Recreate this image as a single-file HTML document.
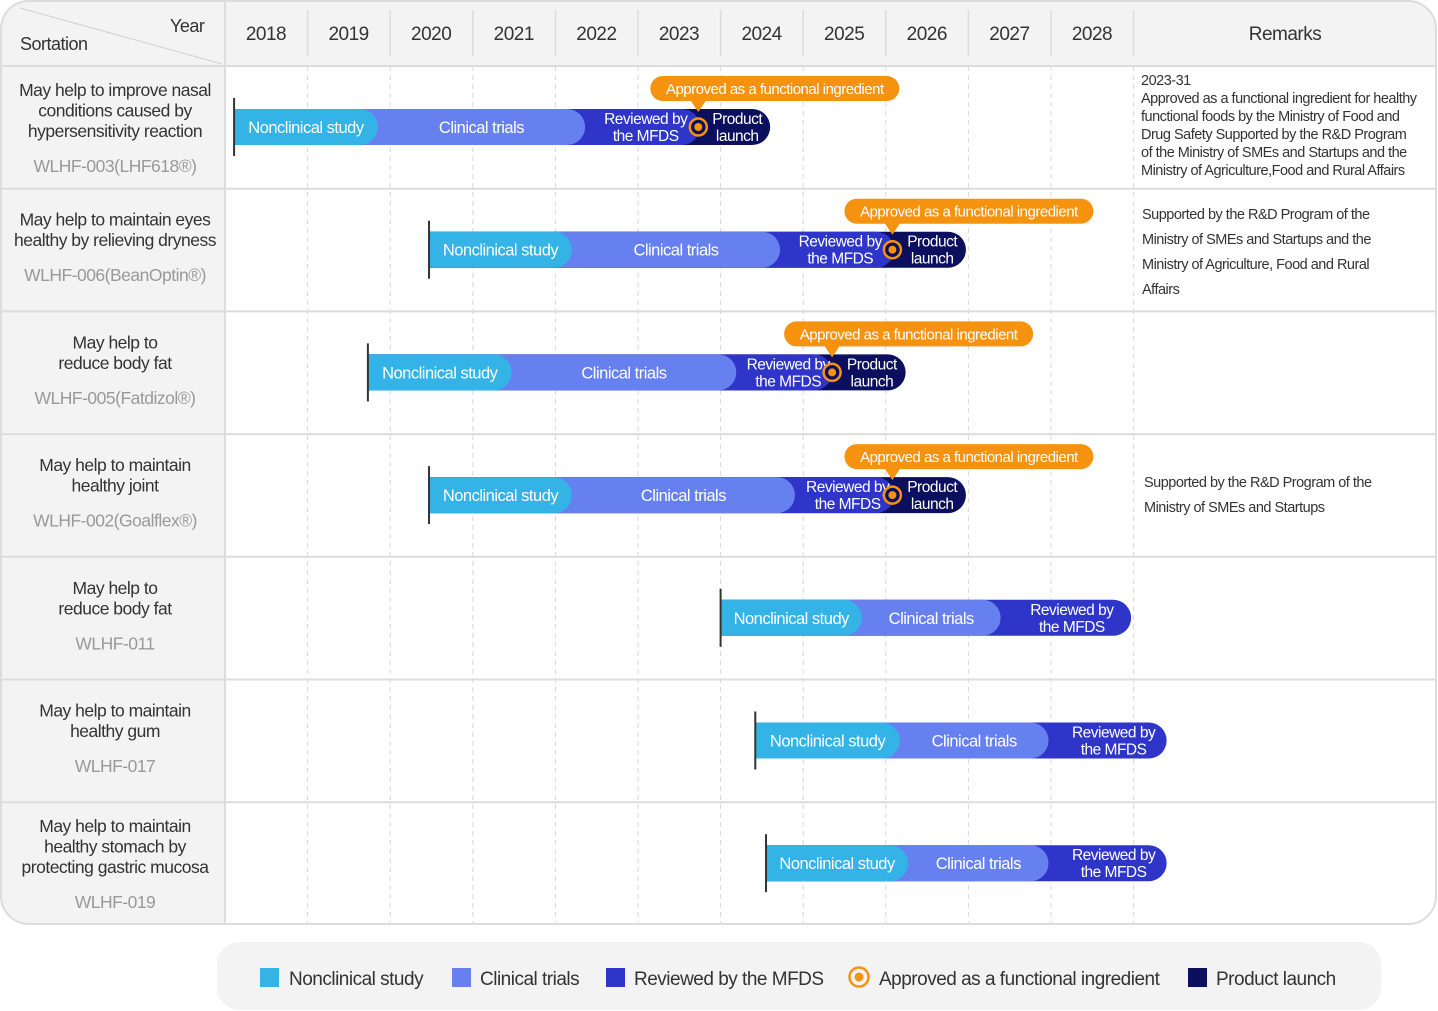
<!DOCTYPE html>
<html><head><meta charset="utf-8"><style>
body{margin:0;background:#fff;font-family:"Liberation Sans",sans-serif;}
svg{display:block}
text{font-family:"Liberation Sans",sans-serif;letter-spacing:-0.5px}
</style></head><body>
<svg id="c" width="1438" height="1011">
<defs><clipPath id="clip"><rect x="1" y="1" width="1435" height="923" rx="28"/></clipPath></defs>
<g clip-path="url(#clip)">
<rect x="0" y="0" width="1438" height="925" fill="#fff"/>
<rect x="0" y="0" width="1438" height="66" fill="#f3f3f3"/>
<rect x="0" y="66" width="225" height="860" fill="#f3f3f3"/>
<g id="grid"></g>
</g>
<rect x="1" y="1" width="1435" height="923" rx="28" fill="none" stroke="#dcdcdc" stroke-width="2"/>
<line x1="20" y1="8" x2="222" y2="64" stroke="#d0d0d0"/>
<text x="170" y="32" font-size="18" fill="#333">Year</text>
<text x="20" y="50" font-size="18" fill="#333">Sortation</text>
<text x="1285" y="40" font-size="19" fill="#333" text-anchor="middle">Remarks</text>
<g id="rows"></g>
<g id="bars"></g>
<g id="remarks" font-size="14.5" fill="#333"></g>
<g>
<rect x="217" y="942" width="1164" height="68" rx="22" fill="#f3f3f3"/>
<rect x="260" y="968" width="19" height="19" fill="#33b3e6"/><text x="289" y="985" font-size="19" fill="#333">Nonclinical study</text>
<rect x="452" y="968" width="19" height="19" fill="#6680f0"/><text x="480" y="985" font-size="19" fill="#333">Clinical trials</text>
<rect x="606" y="968" width="19" height="19" fill="#2e35c8"/><text x="634" y="985" font-size="19" fill="#333">Reviewed by the MFDS</text>
<circle cx="859" cy="977" r="9.5" fill="none" stroke="#f5930f" stroke-width="2.5"/><circle cx="859" cy="977" r="4.5" fill="#f5930f"/><text x="879" y="985" font-size="19" fill="#333">Approved as a functional ingredient</text>
<rect x="1188" y="968" width="19" height="19" fill="#0b0f5e"/><text x="1216" y="985" font-size="19" fill="#333">Product launch</text>
</g>
</svg>
<script>
const years=[2018,2019,2020,2021,2022,2023,2024,2025,2026,2027,2028];
const rowTitles=[["May help to improve nasal","conditions caused by","hypersensitivity reaction"],["May help to maintain eyes","healthy by relieving dryness"],["May help to","reduce body fat"],["May help to maintain","healthy joint"],["May help to","reduce body fat"],["May help to maintain","healthy gum"],["May help to maintain","healthy stomach by","protecting gastric mucosa"]];
const codes=["WLHF-003(LHF618®)","WLHF-006(BeanOptin®)","WLHF-005(Fatdizol®)","WLHF-002(Goalflex®)","WLHF-011","WLHF-017","WLHF-019"];
const starts=[2018.11,2020.47,2019.73,2020.47,2024.0,2024.42,2024.55];
const nonclinEnd=[2019.85,2022.2,2021.47,2022.2,2025.71,2026.17,2026.27];
const clinicalEnd=[2022.36,2024.72,2024.19,2024.9,2027.39,2027.97,2027.97];
const reviewEnd=[2023.75,2026.1,2025.35,2026.1,2028.97,2029.4,2029.4];
const launchEnd=[2024.6,2026.97,2026.24,2026.97,null,null,null];
const approved=[2023.73,2026.08,2025.35,2026.08,null,null,null];
const NS="http://www.w3.org/2000/svg";
const X=y=>225+(y-2018)*82.6;
const rowTop=i=>66+i*122.7;
function el(t,a,p){const e=document.createElementNS(NS,t);for(const k in a)e.setAttribute(k,a[k]);p.appendChild(e);return e;}
function txt(s,a,p){const e=el('text',a,p);e.textContent=s;return e;}
const grid=document.getElementById('grid'),rows=document.getElementById('rows'),bars=document.getElementById('bars');
years.forEach((yr,i)=>{
  const t=txt(String(yr),{x:X(yr)+41,y:40,'font-size':19,fill:'#333','text-anchor':'middle'},rows);
  
  
  const b=el('line',{x1:X(yr)+82.6,y1:10,x2:X(yr)+82.6,y2:56,stroke:'#dcdcdc','stroke-width':1.5},grid);
  const d=el('line',{x1:X(yr)+82.6,y1:66,x2:X(yr)+82.6,y2:925,stroke:'#d8d8d8','stroke-dasharray':'5,4'},grid);
  
  
});
el('line',{x1:225,y1:0,x2:225,y2:925,stroke:'#dcdcdc','stroke-width':2},grid);
el('line',{x1:0,y1:66,x2:1438,y2:66,stroke:'#dcdcdc','stroke-width':2},grid);
for(let i=0;i<7;i++){
  const top=rowTop(i);
  if(i>0) el('line',{x1:0,y1:top,x2:1438,y2:top,stroke:'#dcdcdc','stroke-width':2},grid);
  const lines=rowTitles[i];
  const lh=20.5;
  const base=top+30+(3-lines.length)*0;
  const titleStart = lines.length===3?top+30:top+37;
  lines.forEach((s,j)=>{
    const t=txt(s,{x:115,y:titleStart+j*lh,'font-size':17.5,fill:'#333','text-anchor':'middle'},rows);
    
    
  });
  const c=txt(codes[i],{x:115,y:titleStart+(lines.length-1)*lh+35,'font-size':17.5,fill:'#999','text-anchor':'middle'},rows);
  
  
  // bars
  const cy=top+61,h=36,yT=cy-h/2,r=18;
  const g=el('g',{},bars);
  
  
  const x0=X(starts[i]);
  const seg=(x1,col,name)=>{const p=el('path',{d:`M${x0} ${yT}H${x1-r}A${r} ${r} 0 0 1 ${x1} ${cy}A${r} ${r} 0 0 1 ${x1-r} ${yT+h}H${x0}Z`,fill:col},g);};
  if(launchEnd[i]!=null) seg(X(launchEnd[i]),'#0b0f5e','product-launch-segment');
  seg(X(reviewEnd[i]),'#2e35c8','review-segment');
  seg(X(clinicalEnd[i]),'#6680f0','clinical-segment');
  seg(X(nonclinEnd[i]),'#33b3e6','nonclinical-segment');
  el('line',{x1:x0,y1:cy-29,x2:x0,y2:cy+29,stroke:'#333','stroke-width':2},g);
  const ne=X(nonclinEnd[i]),ce=X(clinicalEnd[i]),re=X(reviewEnd[i]);
  txt('Nonclinical study',{x:(x0+ne)/2,y:cy+6,'font-size':16.5,fill:'#fff','text-anchor':'middle'},g);
  txt('Clinical trials',{x:(ne+ce)/2,y:cy+6,'font-size':16.5,fill:'#fff','text-anchor':'middle'},g);
  const rx=launchEnd[i]!=null?(ce+X(approved[i]))/2+4:(ce+re)/2+6;
  txt('Reviewed by',{x:rx,y:cy-3,'font-size':15.5,fill:'#fff','text-anchor':'middle'},g);
  txt('the MFDS',{x:rx,y:cy+14,'font-size':15.5,fill:'#fff','text-anchor':'middle'},g);
  if(launchEnd[i]!=null){
    const ax=X(approved[i]),le=X(launchEnd[i]);
    txt('Product',{x:(ax+le)/2+3,y:cy-3,'font-size':15.5,fill:'#fff','text-anchor':'middle'},g);
    txt('launch',{x:(ax+le)/2+3,y:cy+14,'font-size':15.5,fill:'#fff','text-anchor':'middle'},g);
    const m=el('g',{},g);
    
    
    el('circle',{cx:ax,cy:cy,r:8.5,fill:'#0b0f5e',stroke:'#f5930f','stroke-width':2.5},m);
    el('circle',{cx:ax,cy:cy,r:4,fill:'#f5930f'},m);
    const by=cy-51,bx=ax-48;
    el('rect',{x:bx,y:by,width:249,height:25,rx:12.5,fill:'#f5930f'},m);
    el('path',{d:`M${ax-8} ${by+24}L${ax+8} ${by+24}L${ax} ${by+36}Z`,fill:'#f5930f'},m);
    txt('Approved as a functional ingredient',{x:bx+124.5,y:by+18,'font-size':15,fill:'#fff','text-anchor':'middle'},m);
  }
}
const rem=document.getElementById('remarks');
const r1=["2023-31","Approved as a functional ingredient for healthy","functional foods by the Ministry of Food and","Drug Safety Supported by the R&D Program","of the Ministry of SMEs and Startups and the","Ministry of Agriculture,Food and Rural Affairs"];
r1.forEach((s,j)=>txt(s,{x:1141,y:85+j*18,'font-size':14.5},rem));
["Supported by the R&D Program of the","Ministry of SMEs and Startups and the","Ministry of Agriculture, Food and Rural","Affairs"].forEach((s,j)=>txt(s,{x:1142,y:219+j*25,'font-size':14.5},rem));
["Supported by the R&D Program of the","Ministry of SMEs and Startups"].forEach((s,j)=>txt(s,{x:1144,y:487+j*25,'font-size':14.5},rem));


</script>
</body></html>
